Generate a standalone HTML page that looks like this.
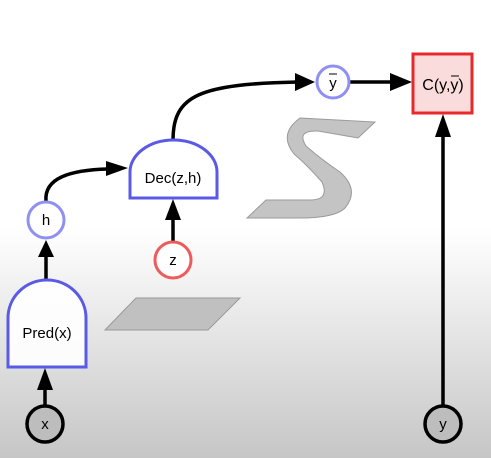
<!DOCTYPE html>
<html><head><style>
html,body{margin:0;padding:0;width:491px;height:458px;overflow:hidden}
svg{display:block;font-family:"Liberation Sans",sans-serif}
</style></head><body>
<svg width="491" height="458" viewBox="0 0 491 458">
<defs>
<linearGradient id="bg" x1="0" y1="0" x2="0" y2="1">
<stop offset="0" stop-color="#fff"/><stop offset="0.5" stop-color="#fff"/><stop offset="1" stop-color="#c6c6c6"/>
</linearGradient>
</defs>
<rect width="491" height="458" fill="url(#bg)"/>

<path d="M300,118 L375,122 L358,138 L318,131 Q296,130 306,146 Q322,160 340,172 Q360,190 345,208 Q335,218 300,218 L247,218 L266,200 L310,200 Q330,200 322,182 Q306,164 294,154 Q278,134 300,118 Z" fill="#c4c4c4" stroke="#9a9a9a" stroke-width="1"/>
<polygon points="105,330 136,298 240,298 208,330" fill="#c0c0c0" stroke="#999" stroke-width="1"/>

<g fill="none" stroke="#000" stroke-width="3.5">
<path d="M173,140 C173,95 200,84 298,82"/>
<path d="M350,82 L392,82"/>
<path d="M46,201 C44,178 70,170 108,169"/>
<path d="M173,241 L173,218"/>
<path d="M46,280 L46,256"/>
<path d="M45,406 L45,388"/>
<path d="M443,406 L443,135"/>
</g>
<g fill="#000">
<polygon points="295,73 315,82 295,91"/>
<polygon points="390,73 412,82 390,91"/>
<polygon points="106,161 128,168 106,176"/>
<polygon points="165,220 173,199 181,220"/>
<polygon points="38,257 46,240 54,257"/>
<polygon points="37,390 45,368 53,390"/>
<polygon points="435,137 443,114 451,137"/>
</g>

<rect x="413" y="54" width="59" height="59" fill="#fbdcdc" stroke="#e8292c" stroke-width="3"/>
<text x="443" y="90" font-size="16" text-anchor="middle">C(y,y)</text>
<line x1="451" y1="76" x2="459" y2="76" stroke="#000" stroke-width="1"/>

<circle cx="333" cy="82" r="16" fill="#fff" stroke="#8f90f2" stroke-width="3"/>
<text x="333" y="88" font-size="15" text-anchor="middle">y</text>
<line x1="329" y1="74" x2="337" y2="74" stroke="#000" stroke-width="1"/>

<path d="M130,198 L130,172 A43.5,32 0 0 1 217,172 L217,198 Z" fill="#fff" stroke="#5a5ae6" stroke-width="3"/>
<text x="173" y="183" font-size="15" text-anchor="middle">Dec(z,h)</text>

<circle cx="173" cy="260" r="18" fill="#fff" stroke="#ee5b5b" stroke-width="3"/>
<text x="173" y="265" font-size="15" text-anchor="middle">z</text>

<circle cx="46" cy="220" r="18" fill="#fff" stroke="#8f90f2" stroke-width="3"/>
<text x="46" y="225" font-size="15" text-anchor="middle">h</text>

<path d="M8,367 L8,318 A39,38 0 0 1 86,318 L86,367 Z" fill="#fff" stroke="#5a5ae6" stroke-width="3" fill-opacity="0.9"/>
<text x="47" y="338" font-size="15" text-anchor="middle">Pred(x)</text>

<circle cx="45" cy="424" r="18" fill="#bdbdbd" stroke="#000" stroke-width="3.5"/>
<text x="45" y="429" font-size="15" text-anchor="middle">x</text>

<circle cx="443" cy="424" r="18" fill="#bdbdbd" stroke="#000" stroke-width="3.5"/>
<text x="443" y="429" font-size="15" text-anchor="middle">y</text>
</svg>
</body></html>
